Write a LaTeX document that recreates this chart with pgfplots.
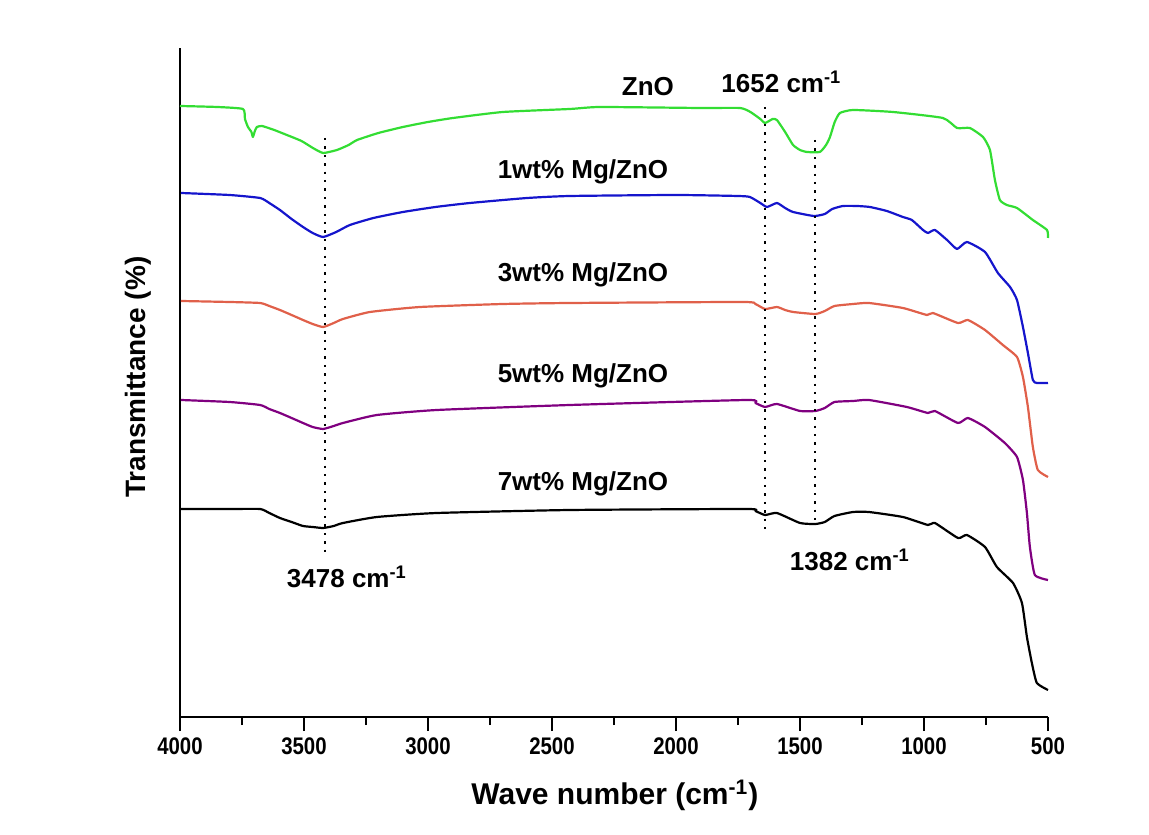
\documentclass[border=0pt]{standalone}
\usepackage{pgfplots}
\pgfplotsset{compat=1.18}
\usepackage{fontspec}
\setmainfont{Liberation Sans}
\newfontfamily\narrowfont[FakeStretch=0.85]{Liberation Sans}
\definecolor{cgreen}{HTML}{33DD33}
\definecolor{cblue}{HTML}{1515CC}
\definecolor{corange}{HTML}{E0604A}
\definecolor{cpurple}{HTML}{800080}

\begin{document}
\begin{tikzpicture}
\begin{axis}[
  width=434pt, height=334.5pt, scale only axis,
  x dir=reverse,
  xmin=500, xmax=4000, ymin=0, ymax=669,
  axis x line*=bottom, axis y line*=left,
  axis line style={line width=1.25pt},
  ytick=\empty,
  xtick={500,1000,...,4000},
  minor x tick num=1,
  tick align=outside,
  major tick length=7pt, minor tick length=4pt,
  every tick/.style={black, line width=1.1pt},
  /pgf/number format/assume math mode=true,
  /pgf/number format/set thousands separator={},
  xticklabel style={font=\narrowfont\fontsize{12}{14}\selectfont\bfseries},
  xlabel={Wave number (cm\textsuperscript{-1})},
  ylabel={Transmittance (\%)},
  xlabel style={font=\fontsize{15}{18}\selectfont\bfseries, at={(axis description cs:0.501,-0.117)}, anchor=center},
  ylabel style={font=\fontsize{14}{17}\selectfont\bfseries, at={(axis description cs:-0.048,0.508)}, anchor=center},
  clip=false,
  every axis plot/.append style={line width=1.1pt, line join=round, smooth, tension=0.3},
]
% ZnO
\addplot[cgreen] coordinates {
(4000,611) (3850,610) (3746,608) (3738,598) (3726,590) (3712,585) (3706,580)
(3698,586) (3690,590) (3669,591) (3620,587) (3569,582) (3510,576) (3464,569)
(3423,564) (3367,567) (3320,572) (3286,577) (3200,584) (3101,590) (3000,595)
(2899,599) (2698,605) (2428,608) (2307,610) (1903,609) (1742,609) (1700,605)
(1660,598) (1641,594) (1610,598) (1593,597) (1560,585) (1528,572) (1500,567)
(1472,565) (1420,565) (1395,572) (1379,580) (1360,595) (1339,604) (1286,607)
(1125,605) (924,599) (867,589) (815,589) (762,580) (734,567) (714,537)
(694,517) (666,512) (625,509) (561,497) (504,487) (500,479)};
% 1wt%
\addplot[cblue] coordinates {
(3996,524) (3800,522) (3677,519) (3640,514) (3597,507) (3550,498) (3504,490)
(3465,484) (3423,480) (3370,485) (3315,492) (3220,499) (3101,505) (2970,510)
(2831,514) (2600,519) (2428,521) (2000,522) (1750,521) (1702,520) (1660,514)
(1633,510) (1593,514) (1560,509) (1528,505) (1444,501) (1400,503) (1370,508)
(1327,511) (1270,511) (1218,510) (1150,506) (1085,500) (1049,497) (1004,487)
(984,484) (956,487) (907,477) (867,468) (827,475) (754,465) (702,444)
(653,430) (625,417) (601,390) (581,364) (561,337) (545,334) (500,334)};
% 3wt%
\addplot[corange] coordinates {
(3996,416) (3800,415) (3677,414) (3640,411) (3597,407) (3550,402) (3504,397)
(3465,393) (3423,390) (3380,394) (3343,398) (3234,405) (3032,410) (2698,413)
(2428,414) (1730,415) (1680,413) (1641,408) (1593,410) (1560,407) (1528,405)
(1438,403) (1400,406) (1361,411) (1286,413) (1222,414) (1085,409) (988,402)
(964,404) (863,394) (823,397) (754,387) (682,372) (625,360) (601,340)
(581,310) (561,270) (541,247) (500,240)};
% 5wt%
\addplot[cpurple] coordinates {
(3996,317) (3800,315) (3677,312) (3640,308) (3597,304) (3550,299) (3504,294)
(3465,290) (3423,288) (3380,291) (3343,294) (3206,302) (2964,307) (2428,312)
(1714,317) (1680,314) (1641,310) (1593,313) (1500,306) (1438,306) (1400,309)
(1361,315) (1286,316) (1222,317) (1069,310) (984,304) (956,306) (863,294)
(823,299) (754,290) (674,274) (625,260) (601,237) (585,204) (573,170)
(553,142) (500,137)};
% 7wt%
\addplot[black] coordinates {
(3996,208) (3800,208) (3677,208) (3640,204) (3597,199) (3550,195) (3504,191)
(3465,190) (3423,189) (3380,191) (3343,194) (3206,200) (2964,204) (2428,207)
(1714,208) (1680,206) (1641,202) (1593,204) (1500,194) (1438,193) (1400,195)
(1361,201) (1286,205) (1222,205) (1085,200) (984,192) (956,194) (863,179)
(827,182) (754,170) (706,150) (641,134) (605,114) (585,80) (565,54)
(545,34) (500,27)};
% guide lines
\addplot[black, line width=1.2pt, dash pattern=on 1.2pt off 3pt, sharp plot] coordinates {(3415,579) (3415,160)};
\addplot[black, line width=1.2pt, dash pattern=on 1.2pt off 3pt, sharp plot] coordinates {(1641,610) (1641,185)};
\addplot[black, line width=1.2pt, dash pattern=on 1.2pt off 3pt, sharp plot] coordinates {(1440,577) (1440,195)};
% labels
\begin{scope}[every node/.style={font=\fontsize{13}{15}\selectfont\bfseries}]
\node at (axis cs:2113,630) {ZnO};
\node at (axis cs:1575,635) {1652 cm\textsuperscript{-1}};
\node at (axis cs:2375,545) {1wt\% Mg/ZnO};
\node at (axis cs:2375,442) {3wt\% Mg/ZnO};
\node at (axis cs:2375,341) {5wt\% Mg/ZnO};
\node at (axis cs:2375,233) {7wt\% Mg/ZnO};
\node at (axis cs:3327,140) {3478 cm\textsuperscript{-1}};
\node at (axis cs:1299,157) {1382 cm\textsuperscript{-1}};
\end{scope}
\end{axis}
\path (-90pt,-58.5pt) rectangle (484.5pt,358.5pt);
\end{tikzpicture}
\end{document}
